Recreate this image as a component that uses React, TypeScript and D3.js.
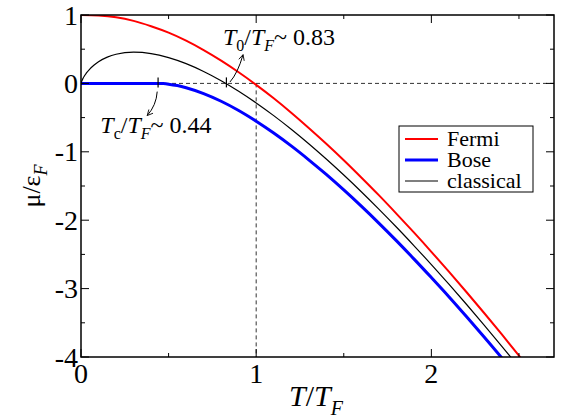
import { useRef, useEffect } from "react";
import * as d3 from "d3";

const W = 571;
const H = 418;
const MARGIN = { top: 15, right: 17, bottom: 61, left: 81 };
const FONT = "Liberation Serif, Times New Roman, Times, serif";

const X_DOMAIN: [number, number] = [0, 2.7];
const Y_DOMAIN: [number, number] = [-4, 1];
const X_MAJOR = [0, 1, 2];
const X_MINOR = [0.5, 1.5, 2.5];
const Y_MAJOR = [-4, -3, -2, -1, 0, 1];
const Y_MINOR = [-3.5, -2.5, -1.5, -0.5, 0.5];

// chemical potential
const FERMI_T = [0, 0.1, 0.2, 0.3, 0.4, 0.5, 0.6, 0.7, 0.8, 0.9, 1.0, 1.1, 1.2, 1.3, 1.4, 1.5, 1.6, 1.7, 1.8, 1.9, 2.0, 2.1, 2.2, 2.3, 2.4, 2.5, 2.6];
const FERMI_MU = [1, 0.992, 0.966, 0.914, 0.836, 0.742, 0.625, 0.487, 0.333, 0.163, -0.021, -0.217, -0.428, -0.651, -0.882, -1.123, -1.375, -1.634, -1.903, -2.179, -2.462, -2.753, -3.05, -3.353, -3.663, -3.98, -4.305];

const BOSE_T = [0, 0.2, 0.44, 0.47, 0.5, 0.55, 0.6, 0.7, 0.8, 0.9, 1.0, 1.1, 1.2, 1.3, 1.4, 1.5, 1.6, 1.7, 1.8, 1.9, 2.0, 2.1, 2.2, 2.3, 2.4, 2.5];
const BOSE_MU = [0, 0, 0, -0.003, -0.011, -0.032, -0.063, -0.149, -0.261, -0.396, -0.553, -0.726, -0.914, -1.117, -1.331, -1.558, -1.795, -2.042, -2.299, -2.565, -2.839, -3.118, -3.408, -3.704, -4.007, -4.32];

const CLASSICAL_T = [0, 0.005, 0.01, 0.02, 0.03, 0.05, 0.075, 0.1, 0.15, 0.2, 0.3, 0.4, 0.5, 0.6, 0.7, 0.8, 0.9, 1.0, 1.1, 1.2, 1.3, 1.4, 1.5, 1.6, 1.7, 1.8, 1.9, 2.0, 2.1, 2.2, 2.3, 2.4, 2.5];
const CLASSICAL_MU = [0, 0.038, 0.066, 0.112, 0.149, 0.21, 0.27, 0.317, 0.384, 0.426, 0.456, 0.436, 0.377, 0.289, 0.175, 0.04, -0.114, -0.285, -0.471, -0.67, -0.882, -1.106, -1.34, -1.584, -1.838, -2.1, -2.371, -2.649, -2.936, -3.229, -3.529, -3.836, -4.149];

const TC = 0.44;
const T0 = 0.83;

const SERIES = [
  { name: "Fermi", color: "#ff0000", width: 2, t: FERMI_T, mu: FERMI_MU },
  { name: "Bose", color: "#0000ff", width: 3, t: BOSE_T, mu: BOSE_MU },
  { name: "classical", color: "#000000", width: 1.2, t: CLASSICAL_T, mu: CLASSICAL_MU },
];

export default function App() {
  const svgRef = useRef<SVGSVGElement>(null);

  useEffect(() => {
    if (!svgRef.current) return;
    const svg = d3.select(svgRef.current);
    svg.selectAll("*").remove();

    const x = d3.scaleLinear().domain(X_DOMAIN).range([MARGIN.left, W - MARGIN.right]);
    const y = d3.scaleLinear().domain(Y_DOMAIN).range([H - MARGIN.bottom, MARGIN.top]);
    const [x0, x1] = x.range();
    const [y0, y1] = y.range();

    const defs = svg.append("defs");
    defs
      .append("clipPath")
      .attr("id", "plot-clip")
      .append("rect")
      .attr("x", x0)
      .attr("y", y1)
      .attr("width", x1 - x0)
      .attr("height", y0 - y1);
    defs
      .append("marker")
      .attr("id", "arrow")
      .attr("viewBox", "0 0 10 10")
      .attr("refX", 9)
      .attr("refY", 5)
      .attr("markerWidth", 7)
      .attr("markerHeight", 7)
      .attr("markerUnits", "userSpaceOnUse")
      .attr("orient", "auto")
      .append("path")
      .attr("d", "M1,1 L9,5 L1,9")
      .attr("fill", "none")
      .attr("stroke", "#000")
      .attr("stroke-width", 1.2);

    // Reference dashed lines
    svg
      .append("line")
      .attr("x1", x(0))
      .attr("x2", x(X_DOMAIN[1]))
      .attr("y1", y(0))
      .attr("y2", y(0))
      .attr("stroke", "#333")
      .attr("stroke-width", 1)
      .attr("stroke-dasharray", "4,3");
    svg
      .append("line")
      .attr("x1", x(1))
      .attr("x2", x(1))
      .attr("y1", y(0))
      .attr("y2", y(Y_DOMAIN[0]))
      .attr("stroke", "#333")
      .attr("stroke-width", 1)
      .attr("stroke-dasharray", "4,3");

    // Curves
    const line = d3
      .line<[number, number]>()
      .x((d) => x(d[0]))
      .y((d) => y(d[1]))
      .curve(d3.curveMonotoneX);

    const curves = svg.append("g").attr("clip-path", "url(#plot-clip)");
    SERIES.forEach((s) => {
      const pts = s.t.map((t, i) => [t, s.mu[i]] as [number, number]);
      curves
        .append("path")
        .attr("d", line(pts))
        .attr("fill", "none")
        .attr("stroke", s.color)
        .attr("stroke-width", s.width);
    });

    // Frame
    svg
      .append("rect")
      .attr("x", x0)
      .attr("y", y1)
      .attr("width", x1 - x0)
      .attr("height", y0 - y1)
      .attr("fill", "none")
      .attr("stroke", "#000")
      .attr("stroke-width", 1.5);

    // Inward ticks on all four sides
    const ticks = svg.append("g").attr("stroke", "#000").attr("stroke-width", 1);
    const xTick = (v: number, len: number) => {
      ticks.append("line").attr("x1", x(v)).attr("x2", x(v)).attr("y1", y0).attr("y2", y0 - len);
      ticks.append("line").attr("x1", x(v)).attr("x2", x(v)).attr("y1", y1).attr("y2", y1 + len);
    };
    const yTick = (v: number, len: number) => {
      ticks.append("line").attr("x1", x0).attr("x2", x0 + len).attr("y1", y(v)).attr("y2", y(v));
      ticks.append("line").attr("x1", x1).attr("x2", x1 - len).attr("y1", y(v)).attr("y2", y(v));
    };
    X_MAJOR.forEach((v) => xTick(v, 8));
    X_MINOR.forEach((v) => xTick(v, 4));
    Y_MAJOR.forEach((v) => yTick(v, 8));
    Y_MINOR.forEach((v) => yTick(v, 4));

    // Tick labels
    svg
      .append("g")
      .selectAll("text")
      .data(X_MAJOR)
      .join("text")
      .attr("x", (d) => x(d))
      .attr("y", y0 + 26)
      .attr("text-anchor", "middle")
      .attr("font-family", FONT)
      .attr("font-size", 28)
      .text((d) => String(d));
    svg
      .append("g")
      .selectAll("text")
      .data(Y_MAJOR)
      .join("text")
      .attr("x", x0 - 3)
      .attr("y", (d) => y(d) + 9.5)
      .attr("text-anchor", "end")
      .attr("font-family", FONT)
      .attr("font-size", 28)
      .text((d) => String(d));

    // Axis titles
    const xTitle = svg
      .append("text")
      .attr("x", 316)
      .attr("y", H - 12)
      .attr("text-anchor", "middle")
      .attr("font-family", FONT)
      .attr("font-size", 30);
    xTitle.append("tspan").attr("font-style", "italic").text("T");
    xTitle.append("tspan").text("/");
    xTitle.append("tspan").attr("font-style", "italic").text("T");
    xTitle.append("tspan").attr("font-style", "italic").attr("font-size", 20).attr("dy", 9).text("F");

    const yTitle = svg
      .append("text")
      .attr("transform", `translate(40,${(y0 + y1) / 2}) rotate(-90)`)
      .attr("text-anchor", "middle")
      .attr("font-family", FONT)
      .attr("font-size", 26);
    yTitle.append("tspan").text("μ/ε");
    yTitle.append("tspan").attr("font-style", "italic").attr("font-size", 18).attr("dy", 7).text("F");

    // Transition markers and arrows
    [TC, T0].forEach((t) => {
      svg
        .append("line")
        .attr("x1", x(t))
        .attr("x2", x(t))
        .attr("y1", y(0) - 6)
        .attr("y2", y(0) + 4)
        .attr("stroke", "#000")
        .attr("stroke-width", 1.2);
    });

    const arrow = (from: [number, number], ctrl: [number, number], to: [number, number]) => {
      const p = d3.path();
      p.moveTo(x(from[0]), y(from[1]));
      p.quadraticCurveTo(x(ctrl[0]), y(ctrl[1]), x(to[0]), y(to[1]));
      svg
        .append("path")
        .attr("d", p.toString())
        .attr("fill", "none")
        .attr("stroke", "#000")
        .attr("stroke-width", 1)
        .attr("marker-end", "url(#arrow)");
    };
    arrow([0.435, -0.12], [0.43, -0.32], [0.378, -0.47]);
    arrow([0.85, 0.02], [0.895, 0.15], [0.925, 0.42]);

    const label = (t: number, mu: number, sub: string, value: string) => {
      const el = svg
        .append("text")
        .attr("x", x(t))
        .attr("y", y(mu))
        .attr("font-family", FONT)
        .attr("font-size", 24);
      el.append("tspan").attr("font-style", "italic").text("T");
      el.append("tspan").attr("font-size", 16).attr("dy", 6).text(sub);
      el.append("tspan").attr("dy", -6).text("/");
      el.append("tspan").attr("font-style", "italic").text("T");
      el.append("tspan").attr("font-style", "italic").attr("font-size", 16).attr("dy", 6).text("F");
      el.append("tspan").attr("dy", -6).text(`~ ${value}`);
    };
    label(0.11, -0.73, "c", "0.44");
    label(0.81, 0.56, "0", "0.83");

    // Legend
    const lg = svg.append("g");
    lg.append("rect")
      .attr("x", 399)
      .attr("y", 126)
      .attr("width", 134)
      .attr("height", 66)
      .attr("fill", "#fff")
      .attr("stroke", "#000")
      .attr("stroke-width", 1);
    SERIES.forEach((s, i) => {
      const ly = 139 + i * 21;
      lg.append("line")
        .attr("x1", 405)
        .attr("x2", 438)
        .attr("y1", ly)
        .attr("y2", ly)
        .attr("stroke", s.color)
        .attr("stroke-width", s.width);
      lg.append("text")
        .attr("x", 447)
        .attr("y", ly + 7)
        .attr("font-family", FONT)
        .attr("font-size", 22)
        .text(s.name);
    });
  }, []);

  return (
    <div style={{ position: "absolute", left: 0, top: 0, background: "#fff" }}>
      <svg ref={svgRef} width={W} height={H} style={{ display: "block" }} />
    </div>
  );
}
